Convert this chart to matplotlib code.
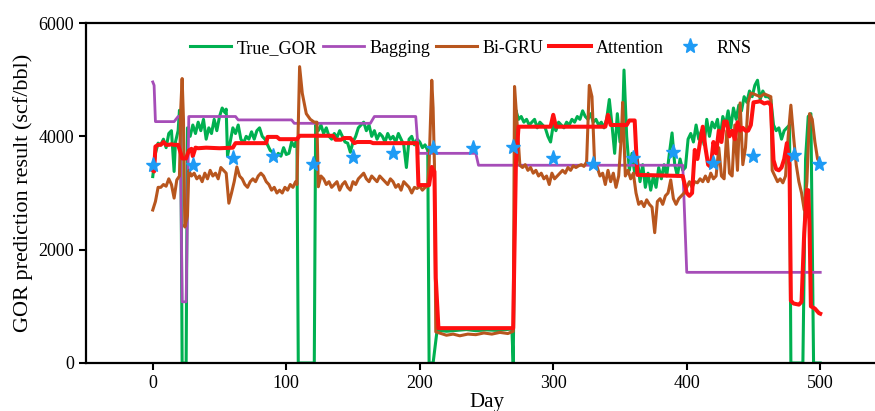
import numpy as np
import matplotlib
matplotlib.use('Agg')
from matplotlib import pyplot as plt

# values (day, GOR)
true_day = [0, 2, 4, 6, 8, 10, 12, 14, 16, 17, 19, 20, 21, 22, 25, 26, 28, 30, 32, 34, 36, 38, 40, 42, 44, 46, 48, 50,
            52, 54, 55, 56, 58, 60, 62, 64, 66, 68, 70, 72, 74, 76, 78, 80, 82, 84, 86, 88, 90, 92, 94, 96, 98, 100,
            102, 104, 106, 108, 109, 121, 122, 124, 126, 128, 130, 132, 134, 136, 138, 140, 142, 144, 146, 148, 150,
            152, 154, 156, 158, 160, 162, 164, 166, 168, 170, 172, 174, 176, 178, 180, 182, 184, 186, 188, 190, 192,
            194, 196, 198, 200, 202, 204, 206, 207, 210, 213, 220, 228, 235, 242, 250, 258, 265, 269, 270, 272, 274,
            276, 278, 280, 282, 284, 286, 288, 290, 292, 294, 296, 298, 300, 302, 304, 306, 308, 310, 312, 314, 316,
            318, 320, 322, 324, 326, 328, 330, 332, 334, 336, 338, 340, 342, 344, 346, 348, 350, 352, 353, 355, 357,
            359, 361, 363, 365, 367, 369, 371, 373, 375, 377, 379, 381, 383, 385, 387, 389, 391, 393, 395, 397, 399,
            401, 403, 405, 407, 409, 411, 413, 415, 417, 419, 421, 423, 425, 427, 429, 431, 433, 435, 437, 439, 441,
            443, 445, 447, 449, 451, 453, 455, 457, 459, 461, 463, 465, 467, 469, 471, 473, 475, 477, 478, 487, 489,
            491, 493, 495, 500]
true_gor = [3290, 3700, 3880, 3850, 3950, 3800, 4050, 4100, 3380, 3900, 4100, 4460, 4200, 0, 0, 4150, 4000, 4200, 4050,
            4250, 4100, 4300, 3950, 4150, 4050, 4300, 4100, 4350, 4500, 4420, 4480, 3650, 3900, 4150, 4050, 4200, 3950,
            3880, 4000, 3950, 4080, 3950, 4100, 4150, 4000, 3950, 3850, 3750, 3720, 3620, 3700, 3650, 3800, 3680, 3700,
            3900, 3820, 3950, 0, 0, 4200, 4100, 4200, 4050, 4150, 4000, 3950, 4050, 3980, 4100, 4000, 3900, 3880, 3720,
            3900, 4000, 4150, 4200, 4250, 4100, 4200, 4000, 4100, 3950, 4050, 4000, 3900, 4050, 3950, 4000, 3900, 4050,
            3950, 3850, 3450, 3950, 4000, 3850, 3950, 3900, 3800, 3850, 3750, 0, 0, 580, 560, 575, 590, 570, 585, 575,
            590, 600, 0, 4460, 4300, 4350, 4250, 4300, 4200, 4250, 4300, 4150, 4250, 4200, 4150, 4000, 3900, 4200, 4100,
            4250, 4200, 4150, 4250, 4200, 4300, 4250, 4350, 4300, 4450, 4350, 4300, 4400, 4250, 4300, 4200, 4250, 4150,
            4300, 4650, 4200, 3700, 4400, 3900, 4300, 5170, 4000, 3400, 3700, 3350, 3600, 3200, 3500, 3100, 3350, 3050,
            3300, 3100, 3450, 3250, 3500, 3300, 3700, 4060, 3500, 3300, 3600, 3400, 3450, 3950, 4050, 3900, 4200, 3950,
            4100, 3850, 4300, 4000, 4250, 4150, 4300, 3950, 4350, 4200, 4450, 4150, 4500, 4300, 4550, 4450, 4700, 4600,
            4800, 4700, 4900, 4990, 4650, 4800, 4700, 4700, 4650, 4200, 4100, 4150, 3950, 4100, 4150, 4200, 0, 0, 3600,
            4350, 4400, 0, 0]

bag_day = [0, 1, 2, 16, 19, 20.5, 22, 25, 27, 62, 64, 104, 106, 163, 166, 197, 199, 242, 244, 397, 400, 500]
bag_val = [4960, 4900, 4260, 4260, 4350, 4350, 1080, 1080, 4350, 4350, 4290, 4290, 4230, 4230, 4350, 4350, 3700, 3700,
           3490, 3490, 1600, 1600]

gru_day = [0, 2, 4, 6, 8, 10, 12, 14, 16, 18, 20, 21, 22, 23, 24, 26, 27, 29, 31, 33, 35, 37, 39, 41, 43, 45, 47, 49, 51,
           53, 55, 57, 59, 61, 63, 65, 67, 69, 71, 73, 75, 77, 79, 81, 83, 85, 87, 89, 91, 93, 95, 97, 99, 101, 103, 105,
           107, 108, 110, 112, 115, 118, 121, 123, 124, 126, 128, 130, 132, 134, 136, 138, 140, 142, 144, 146, 148, 150,
           152, 154, 156, 158, 160, 162, 164, 166, 168, 170, 172, 174, 176, 178, 180, 182, 184, 186, 188, 190, 192, 194,
           196, 198, 200, 202, 204, 206, 207, 209, 210, 211, 212, 216, 220, 225, 230, 236, 242, 248, 254, 260, 266, 270,
           271, 273, 275, 277, 279, 281, 283, 285, 287, 289, 291, 293, 295, 297, 299, 301, 303, 305, 307, 309, 311, 313,
           315, 317, 319, 321, 323, 325, 327, 329, 331, 333, 335, 337, 339, 341, 343, 345, 347, 349, 351, 352, 354, 356,
           358, 360, 362, 364, 366, 368, 370, 372, 374, 376, 378, 380, 382, 384, 386, 388, 390, 392, 394, 396, 398, 400,
           402, 404, 406, 408, 410, 412, 414, 416, 418, 420, 422, 424, 426, 428, 430, 432, 434, 436, 438, 440, 442, 444,
           446, 448, 450, 452, 455, 458, 461, 463, 464, 466, 468, 470, 472, 474, 476, 478, 480, 482, 484, 486, 488, 490,
           492, 494, 496, 498, 500]
gru_val = [2700, 2850, 3100, 3100, 3150, 3120, 3250, 3150, 2910, 3230, 3300, 4500, 5020, 4300, 2400, 2600, 3400, 3300,
           3350, 3250, 3300, 3200, 3350, 3250, 3400, 3300, 3350, 3250, 3450, 3400, 3350, 2820, 3000, 3200, 3460, 3300,
           3250, 3150, 3100, 3200, 3250, 3200, 3300, 3350, 3300, 3200, 3150, 3050, 3100, 3000, 3050, 3000, 3100, 3050,
           3150, 3100, 3200, 3150, 5230, 4760, 4400, 4300, 4250, 4250, 3110, 3300, 3250, 3150, 3200, 3100, 3150, 3200,
           3050, 3150, 3200, 3100, 3050, 3200, 3150, 3250, 3300, 3350, 3250, 3200, 3300, 3250, 3200, 3300, 3250, 3200,
           3150, 3250, 3200, 3100, 3150, 3050, 3200, 3150, 3100, 3000, 3100, 3080, 3120, 3050, 3100, 3120, 3500, 4990,
           4500, 3500, 550, 520, 490, 510, 480, 510, 500, 530, 510, 540, 520, 560, 4880, 4200, 3490, 3450, 3500, 3400,
           3450, 3350, 3400, 3300, 3350, 3250, 3300, 3150, 3350, 3250, 3300, 3350, 3400, 3350, 3450, 3400, 3480, 3450,
           3480, 3500, 3470, 3550, 4900, 4700, 3500, 3450, 3300, 3350, 3150, 3400, 3200, 3350, 3100, 3300, 4000, 4600,
           3300, 3400, 3250, 3350, 3000, 2800, 2850, 2760, 2880, 2800, 2750, 2300, 2850, 2900, 2800, 2950, 3000, 3230,
           2900, 2800, 2900, 2950, 3000, 3100, 3200, 3100, 3200, 3180, 3250, 3200, 3300, 3200, 3350, 3250, 3300, 3800,
           3300, 3250, 4100, 3350, 3300, 4200, 3400, 4590, 3500, 3800, 4600, 4760, 4750, 4730, 4700, 4750, 4720, 4700,
           3400, 3300, 3200, 3250, 3180, 3300, 4000, 4550, 4000, 3500, 3200, 3000, 2700, 3200, 4400, 4300, 3900, 3600,
           3530]

att_day = [0, 1, 2, 4, 6, 8, 10, 12, 14, 16, 19, 21, 22, 25, 27, 29, 30, 32, 34, 40, 50, 60, 62, 85, 86, 93, 95, 108,
           110, 135, 137, 141, 143, 148, 151, 153, 163, 165, 198, 199, 207, 208, 209, 210, 211, 212, 214, 270, 272, 274,
           298, 300, 302, 339, 341, 343, 355, 357, 361, 363, 397, 400, 402, 404, 406, 408, 410, 412, 414, 416, 418, 420,
           422, 424, 426, 428, 430, 432, 434, 436, 438, 440, 442, 444, 446, 448, 450, 453, 455, 458, 461, 463, 465, 467,
           469, 471, 473, 475, 477, 478, 480, 484, 486, 488, 490, 491, 492, 493, 496, 499, 500]
att_val = [3400, 3380, 3820, 3850, 3850, 3900, 3850, 3850, 3860, 3850, 3850, 3700, 3610, 3610, 3750, 3780, 3650, 3800,
           3790, 3800, 3790, 3800, 3880, 3880, 3990, 3990, 3950, 3950, 4010, 4010, 3940, 3940, 3970, 3970, 3880, 3900,
           3900, 3880, 3880, 3140, 3140, 3300, 3460, 3400, 3380, 1500, 615, 615, 3500, 4170, 4170, 4380, 4170, 4170,
           4380, 4200, 4200, 4280, 4280, 3320, 3300, 3000, 2950, 3000, 3760, 3600, 3900, 4170, 3800, 3500, 3460, 3900,
           3700, 4100, 3900, 4260, 4260, 4000, 4100, 3950, 4250, 4100, 4150, 4100, 4100, 4200, 4600, 4610, 4620, 4580,
           4600, 4550, 3580, 3420, 3400, 3450, 3600, 3880, 3500, 1100, 1050, 1030, 1080, 2300, 3050, 3050, 2400, 1000,
           960, 880, 870]

rns_day = [0, 30, 60, 90, 120, 150, 180, 210, 240, 270, 300, 330, 360, 390, 420, 450, 480, 499]
rns_val = [3494, 3494, 3612, 3653, 3506, 3629, 3711, 3800, 3800, 3817, 3623, 3506, 3612, 3718, 3524, 3659, 3670, 3512]

plt.rcParams['font.family'] = ['Liberation Serif', 'DejaVu Serif']
plt.rcParams['font.size'] = 13

fig = plt.figure(figsize=(8.75, 4.11), dpi=100)
ax = fig.add_axes([0.0983, 0.1168, 0.9154, 0.8272])

ax.plot(true_day, true_gor, color='#00B050', lw=2.2, label='True_GOR')
ax.plot(bag_day, bag_val, color='#A64DB8', lw=2.0, label='Bagging')
ax.plot(gru_day, gru_val, color='#B8561E', lw=2.2, label='Bi-GRU')
ax.plot(att_day, att_val, color='#FF1010', lw=2.9, label='Attention')
ax.plot(rns_day, rns_val, ls='none', marker='*', ms=11, color='#1E9BF5', label='RNS')

ax.set_xlim(-50, 550)
ax.set_ylim(0, 6000)
ax.set_xticks([0, 100, 200, 300, 400, 500])
ax.set_yticks([0, 2000, 4000, 6000])
ax.set_xlabel('Day', fontsize=15, labelpad=1)
ax.set_ylabel('GOR prediction result (scf/bbl)', fontsize=16, labelpad=4)
ax.spines['right'].set_visible(False)
for s in ['left', 'bottom', 'top']:
    ax.spines[s].set_linewidth(1.6)
ax.tick_params(width=1.5, length=5, direction='out')

ax.legend(loc='center', bbox_to_anchor=(0.48, 0.926), ncol=5, frameon=False, handlelength=2.3,
          handletextpad=0.3, columnspacing=0.3, fontsize=13)

plt.savefig('out.png', dpi=100)
